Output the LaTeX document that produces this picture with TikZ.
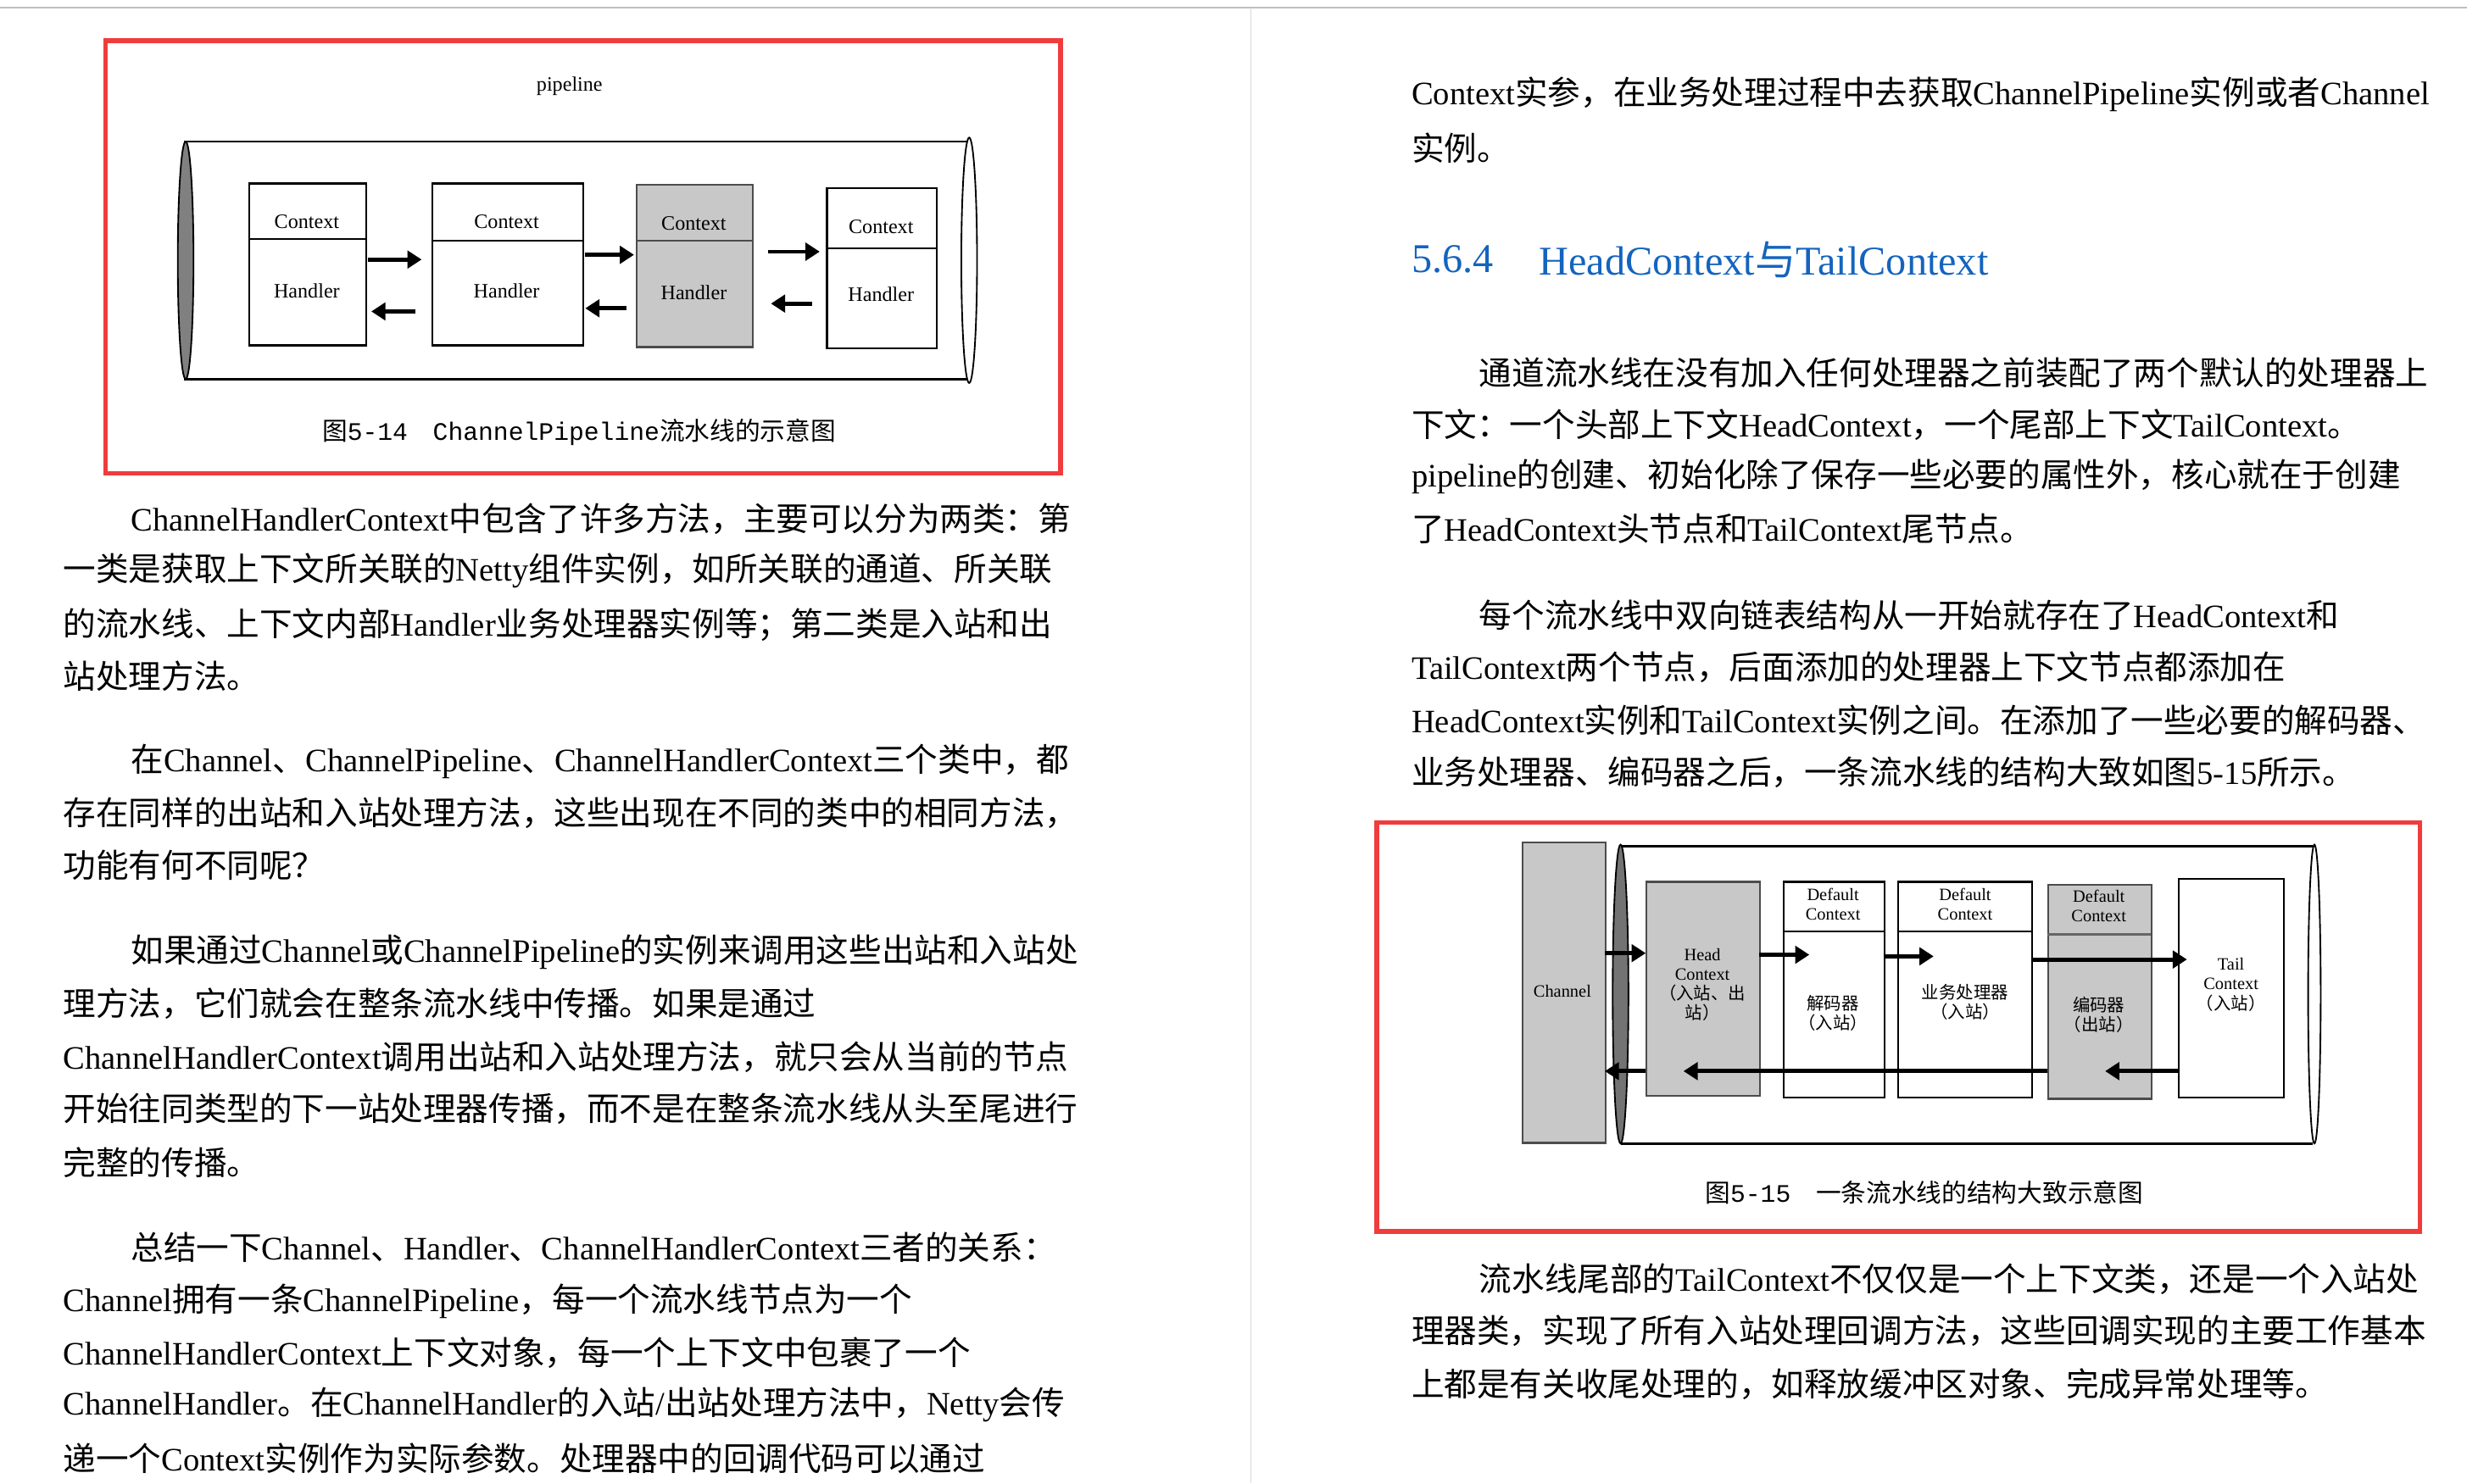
\documentclass[tikz,border=0pt]{standalone}
\usepackage{fontspec}
\setmainfont{Liberation Serif}
\setmonofont{Liberation Mono}
\newfontfamily\cjk{Noto Sans CJK SC}
\usetikzlibrary{arrows.meta}
\newXeTeXintercharclass\CJKcls
\newcount\cc
\cc="3000 \loop \XeTeXcharclass\cc=\CJKcls \ifnum\cc<"303F \advance\cc1 \repeat
\cc="4E00 \loop \XeTeXcharclass\cc=\CJKcls \ifnum\cc<"9FFF \advance\cc1 \repeat
\cc="FF00 \loop \XeTeXcharclass\cc=\CJKcls \ifnum\cc<"FFEF \advance\cc1 \repeat
\def\latinfont{\rmfamily}
\XeTeXinterchartokenstate=1
\XeTeXinterchartoks 0 \CJKcls = {\cjk}
\XeTeXinterchartoks 4095 \CJKcls = {\cjk}
\XeTeXinterchartoks \CJKcls 0 = {\latinfont}
\definecolor{redbox}{RGB}{240,60,60}
\definecolor{headblue}{RGB}{20,100,190}
\definecolor{boxgray}{RGB}{200,200,200}
\tikzset{
  body/.style={anchor=west,inner sep=0,font=\fontsize{20.8}{24}\selectfont},
  frame/.style={draw=redbox,line width=3pt},
  box/.style={draw,line width=1.2pt,anchor=north west,inner sep=0},
  gbox/.style={box,fill=boxgray,draw=black!70},
  lab/.style={inner sep=0,font=\fontsize{13}{15}\selectfont},
  slab/.style={inner sep=0,font=\fontsize{11}{12.5}\selectfont,align=center},
  arr/.style={line width=2.6pt,-{Triangle[length=9pt,width=11pt]}},
  figcap/.style={inner sep=0,font=\fontsize{16}{18}\selectfont\def\latinfont{\ttfamily}}
}
\begin{document}
\begin{tikzpicture}[x=1pt,y=-1pt]
\useasboundingbox (0,0) rectangle (1568,943);
\draw[black!25,line width=1pt] (0,5) -- (1568,5);
\draw[black!15,line width=1pt] (795,5) -- (795,943);

% ---------- Figure 5-14 ----------
\draw[frame] (67,26) rectangle (674,301);
\node[lab] (pl) at (362,55) {pipeline};
\draw[line width=1.5pt] (117,90) -- (614,90);
\draw[line width=1.5pt] (117,241) -- (614,241);
\draw[fill=black!50,line width=1pt] (118,165.5) ellipse [x radius=5,y radius=75.5];
\draw[fill=white,line width=1pt] (616,165.5) ellipse [x radius=5,y radius=78];
\node[box,minimum width=74pt,minimum height=103pt] (a1) at (158,116) {};
\node[box,minimum width=96pt,minimum height=103pt] (a2) at (274,116) {};
\node[gbox,minimum width=74pt,minimum height=103pt] (a3) at (404,117) {};
\node[box,minimum width=70pt,minimum height=102pt] (a4) at (525,119) {};
\draw[line width=1.2pt] (158,152) -- (232,152);
\draw[line width=1.2pt] (274,153) -- (370,153);
\draw[line width=1.2pt,black!70] (404,153) -- (478,153);
\draw[line width=1.2pt] (525,158) -- (595,158);
\node[lab] (c1) at (195,141) {Context}; \node[lab] (h1) at (195,185) {Handler};
\node[lab] (c2) at (322,141) {Context}; \node[lab] (h2) at (322,185) {Handler};
\node[lab] (c3) at (441,142) {Context}; \node[lab] (h3) at (441,186) {Handler};
\node[lab] (c4) at (560,144) {Context}; \node[lab] (h4) at (560,187) {Handler};
\draw[arr] (234,165) -- (268,165);
\draw[arr] (264,198) -- (236,198);
\draw[arr] (372,162) -- (403,162);
\draw[arr] (398,196) -- (372,196);
\draw[arr] (488,160) -- (521,160);
\draw[arr] (516,193) -- (490,193);
\node[figcap] (cap1) at (368,275) {图5-14　ChannelPipeline流水线的示意图};

% ---------- Figure 5-15 ----------
\draw[frame] (875,523) rectangle (1538,783);
\node[gbox,minimum width=53pt,minimum height=191pt] (ch) at (967,535) {};
\node[lab,font=\fontsize{11}{12}\selectfont] at (993,630) {Channel};
\draw[line width=1.5pt] (1030,538) -- (1470,538);
\draw[line width=1.5pt] (1030,727) -- (1470,727);
\draw[fill=black!55,line width=1pt] (1030,632) ellipse [x radius=5,y radius=95];
\draw[fill=white,line width=1pt] (1471,632) ellipse [x radius=4,y radius=95];
\node[gbox,minimum width=72pt,minimum height=136pt] (hd) at (1046,560) {};
\node[box,minimum width=64pt,minimum height=137pt] (d1) at (1133,560) {};
\node[box,minimum width=85pt,minimum height=137pt] (d2) at (1206,560) {};
\node[gbox,minimum width=66pt,minimum height=136pt] (d3) at (1301,562) {};
\node[box,minimum width=67pt,minimum height=139pt] (tl) at (1384,558) {};
\draw[line width=1.2pt] (1133,592) -- (1197,592);
\draw[line width=1.2pt] (1206,592) -- (1291,592);
\draw[line width=1.5pt,black!60] (1301,594) -- (1367,594);
\node[slab] at (1082,626) {Head\\Context\\（入站、出\\站）};
\node[slab] at (1165,575) {Default\\Context};
\node[slab] at (1165,644) {解码器\\（入站）};
\node[slab] at (1249,575) {Default\\Context};
\node[slab] at (1249,637) {业务处理器\\（入站）};
\node[slab] at (1334,576) {Default\\Context};
\node[slab] at (1334,645) {编码器\\（出站）};
\node[slab] at (1418,626) {Tail\\Context\\（入站）};
\draw[arr] (1020,606) -- (1046,606);
\draw[arr] (1118,607) -- (1150,607);
\draw[arr] (1197,608) -- (1229,608);
\draw[arr] (1291,610) -- (1390,610);
\draw[arr] (1301,681) -- (1070,681);
\draw[arr] (1046,681) -- (1020,681);
\draw[arr] (1384,681) -- (1338,681);
\node[figcap] (cap2) at (1223,758) {图5-15　一条流水线的结构大致示意图};

% ---------- Left column text ----------
\node[body] at (83,330) {ChannelHandlerContext中包含了许多方法，主要可以分为两类：第};
\node[body] at (40,363) {一类是获取上下文所关联的Netty组件实例，如所关联的通道、所关联};
\node[body] at (40,397) {的流水线、上下文内部Handler业务处理器实例等；第二类是入站和出};
\node[body] at (40,430) {站处理方法。};
\node[body] at (83,484) {在Channel、ChannelPipeline、ChannelHandlerContext三个类中，都};
\node[body] at (40,517) {存在同样的出站和入站处理方法，这些出现在不同的类中的相同方法，};
\node[body] at (40,550) {功能有何不同呢？};
\node[body] at (83,605) {如果通过Channel或ChannelPipeline的实例来调用这些出站和入站处};
\node[body] at (40,638) {理方法，它们就会在整条流水线中传播。如果是通过};
\node[body] at (40,672) {ChannelHandlerContext调用出站和入站处理方法，就只会从当前的节点};
\node[body] at (40,705) {开始往同类型的下一站处理器传播，而不是在整条流水线从头至尾进行};
\node[body] at (40,739) {完整的传播。};
\node[body] at (83,793) {总结一下Channel、Handler、ChannelHandlerContext三者的关系：};
\node[body] at (40,827) {Channel拥有一条ChannelPipeline，每一个流水线节点为一个};
\node[body] at (40,860) {ChannelHandlerContext上下文对象，每一个上下文中包裹了一个};
\node[body] at (40,893) {ChannelHandler。在ChannelHandler的入站/出站处理方法中，Netty会传};
\node[body] at (40,927) {递一个Context实例作为实际参数。处理器中的回调代码可以通过};

% ---------- Right column text ----------
\node[body] at (897,60) {Context实参，在业务处理过程中去获取ChannelPipeline实例或者Channel};
\node[body] at (897,94) {实例。};
\node[body,text=headblue,font=\fontsize{26}{30}\selectfont] at (897,165) {5.6.4};
\node[body,text=headblue,font=\fontsize{26}{30}\selectfont] at (978,165) {HeadContext与TailContext};
\node[body] at (940,237) {通道流水线在没有加入任何处理器之前装配了两个默认的处理器上};
\node[body] at (897,270) {下文：一个头部上下文HeadContext，一个尾部上下文TailContext。};
\node[body] at (897,303) {pipeline的创建、初始化除了保存一些必要的属性外，核心就在于创建};
\node[body] at (897,336) {了HeadContext头节点和TailContext尾节点。};
\node[body] at (940,391) {每个流水线中双向链表结构从一开始就存在了HeadContext和};
\node[body] at (897,424) {TailContext两个节点，后面添加的处理器上下文节点都添加在};
\node[body] at (897,458) {HeadContext实例和TailContext实例之间。在添加了一些必要的解码器、};
\node[body] at (897,491) {业务处理器、编码器之后，一条流水线的结构大致如图5-15所示。};
\node[body] at (940,813) {流水线尾部的TailContext不仅仅是一个上下文类，还是一个入站处};
\node[body] at (897,846) {理器类，实现了所有入站处理回调方法，这些回调实现的主要工作基本};
\node[body] at (897,880) {上都是有关收尾处理的，如释放缓冲区对象、完成异常处理等。};
\end{tikzpicture}
\end{document}
